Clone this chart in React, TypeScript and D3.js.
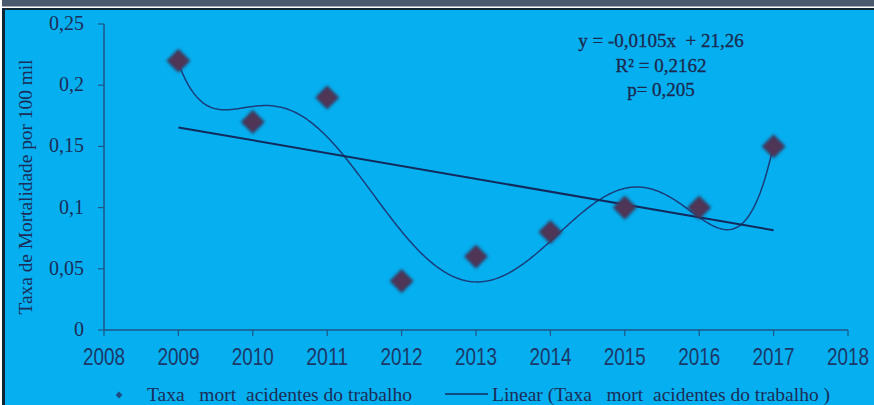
import React from "react";
import * as d3 from "d3";

// Mortality rate from work accidents, per 100k, by year
const years = [2009, 2010, 2011, 2012, 2013, 2014, 2015, 2016, 2017];
const rates = [0.22, 0.17, 0.19, 0.04, 0.06, 0.08, 0.1, 0.1, 0.15];

// Linear trend reported on the chart: y = slope * x + intercept
const trendSlope = -0.0105;
const trendIntercept = 21.26;
const equationLines = ["y = -0,0105x  + 21,26", "R² = 0,2162", "p= 0,205"];

const xTicks = [2008, 2009, 2010, 2011, 2012, 2013, 2014, 2015, 2016, 2017, 2018];
const yTicks = [0, 0.05, 0.1, 0.15, 0.2, 0.25];
const yTickLabels = ["0", "0,05", "0,1", "0,15", "0,2", "0,25"];

const seriesName = "Taxa   mort  acidentes do trabalho";
const trendName = "Linear (Taxa   mort  acidentes do trabalho )";
const yTitle = "Taxa de Mortalidade por 100 mil";

const W = 874;
const H = 405;
const SERIF = "'Liberation Serif', 'Times New Roman', serif";
const SANS = "'Liberation Sans', Arial, sans-serif";

// Least-squares polynomial fit (normal equations, Gaussian elimination)
function polyFit(xs: number[], ys: number[], deg: number): number[] {
  const n = deg + 1;
  const A: number[][] = Array.from({ length: n }, () => new Array(n + 1).fill(0));
  for (let r = 0; r < n; r++) {
    for (let c = 0; c < n; c++) {
      A[r][c] = d3.sum(xs, (x) => Math.pow(x, r + c));
    }
    A[r][n] = d3.sum(xs, (x, i) => ys[i] * Math.pow(x, r));
  }
  for (let i = 0; i < n; i++) {
    let p = i;
    for (let k = i + 1; k < n; k++) if (Math.abs(A[k][i]) > Math.abs(A[p][i])) p = k;
    [A[i], A[p]] = [A[p], A[i]];
    for (let k = i + 1; k < n; k++) {
      const f = A[k][i] / A[i][i];
      for (let j = i; j <= n; j++) A[k][j] -= f * A[i][j];
    }
  }
  const coef = new Array(n).fill(0);
  for (let i = n - 1; i >= 0; i--) {
    let s = A[i][n];
    for (let j = i + 1; j < n; j++) s -= A[i][j] * coef[j];
    coef[i] = s / A[i][i];
  }
  return coef;
}

export default function App() {
  const x = d3.scaleLinear().domain([2008, 2018]).range([104, 848]);
  const y = d3.scaleLinear().domain([0, 0.25]).range([330, 24]);

  // smoothed polynomial trend through the series
  const toT = (yr: number) => (yr - 2013) / 4;
  const coef = polyFit(years.map(toT), rates, 6);
  const evalPoly = (yr: number) => coef.reduce((s, c, i) => s + c * Math.pow(toT(yr), i), 0);
  const polyPts: [number, number][] = d3.range(0, 401).map((i) => {
    const yr = 2009 + (i / 400) * 8;
    return [yr, evalPoly(yr)];
  });
  const polyLine = d3
    .line<[number, number]>()
    .x((d) => x(d[0]))
    .y((d) => y(d[1]))(polyPts);

  const trendY = (yr: number) => trendSlope * yr + trendIntercept;
  const tFirst = years[0];
  const tLast = years[years.length - 1];

  const diamond = d3.symbol().type(d3.symbolDiamond2).size(310)();

  const axisColor = "#1d5687";
  const textColor = "#1b2d58";
  const pre = { whiteSpace: "pre" as const };

  return (
    <svg
      width={W}
      height={H}
      style={{ position: "absolute", left: 0, top: 0, background: "#ffffff" }}
    >
      <defs>
        <filter id="soft" x="-50%" y="-50%" width="200%" height="200%">
          <feGaussianBlur stdDeviation="1.8" />
        </filter>
      </defs>

      {/* frame */}
      <rect x={2} y={0} width={W - 2} height={6.5} fill="#4a5b6e" />
      <rect x={2} y={8} width={W - 2} height={H - 8} fill="#0e2536" />
      <rect x={5} y={10} width={W - 5} height={H - 10} fill="#06afef" />

      {/* y axis */}
      <line x1={x(2008)} x2={x(2008)} y1={y(0.25)} y2={y(0)} stroke={axisColor} strokeWidth={1.5} />
      {yTicks.map((t, i) => (
        <g key={"yt" + t}>
          <line x1={x(2008) - 6} x2={x(2008)} y1={y(t)} y2={y(t)} stroke={axisColor} strokeWidth={1.2} />
          <text
            x={84}
            y={y(t) + 6}
            textAnchor="end"
            fontFamily={SERIF}
            fontSize={20}
            fill={textColor}
          >
            {yTickLabels[i]}
          </text>
        </g>
      ))}

      {/* x axis */}
      <line x1={x(2008)} x2={x(2018)} y1={y(0)} y2={y(0)} stroke={axisColor} strokeWidth={1.5} />
      {xTicks.map((t) => (
        <g key={"xt" + t}>
          <line x1={x(t)} x2={x(t)} y1={y(0)} y2={y(0) + 6} stroke={axisColor} strokeWidth={1.2} />
          <text
            x={x(t) - 21}
            y={365}
            fontFamily={SANS}
            fontSize={23}
            textLength={42}
            lengthAdjust="spacingAndGlyphs"
            fill="#1c3868"
          >
            {t}
          </text>
        </g>
      ))}

      {/* y axis title */}
      <text
        transform={`translate(32, ${187}) rotate(-90)`}
        textAnchor="middle"
        fontFamily={SERIF}
        fontSize={18}
        textLength={255}
        lengthAdjust="spacingAndGlyphs"
        fill={textColor}
      >
        {yTitle}
      </text>

      {/* polynomial curve */}
      <path d={polyLine ?? ""} fill="none" stroke="#1a3d7c" strokeWidth={1.5} />

      {/* linear trend */}
      <line
        x1={x(tFirst)}
        y1={y(trendY(tFirst))}
        x2={x(tLast)}
        y2={y(trendY(tLast))}
        stroke="#112a5c"
        strokeWidth={2}
      />

      {/* markers */}
      {years.map((yr, i) => (
        <path
          key={"m" + yr}
          d={diamond ?? ""}
          transform={`translate(${x(yr)}, ${y(rates[i])})`}
          fill="#4f3556"
          stroke="#34385e"
          strokeWidth={1.5}
          filter="url(#soft)"
        />
      ))}

      {/* equation */}
      {equationLines.map((l, i) => (
        <text
          key={"eq" + i}
          x={661}
          y={47 + i * 24.5}
          textAnchor="middle"
          fontFamily={SERIF}
          fontSize={19}
          fill="#1a2a50"
          style={pre}
          stroke="#1a2a50"
          strokeWidth={0.3}
        >
          {l}
        </text>
      ))}

      {/* legend */}
      <path
        d={d3.symbol().type(d3.symbolDiamond2).size(30)() ?? ""}
        transform="translate(119, 395)"
        fill="#1d4a80"
      />
      <text
        x={147}
        y={401}
        fontFamily={SERIF}
        fontSize={18}
        textLength={265}
        lengthAdjust="spacingAndGlyphs"
        fill={textColor}
        style={pre}
      >
        {seriesName}
      </text>
      <line x1={445} x2={488} y1={394} y2={394} stroke="#112a5c" strokeWidth={1.5} />
      <text
        x={492}
        y={401}
        fontFamily={SERIF}
        fontSize={18}
        textLength={338}
        lengthAdjust="spacingAndGlyphs"
        fill={textColor}
        style={pre}
      >
        {trendName}
      </text>
    </svg>
  );
}
